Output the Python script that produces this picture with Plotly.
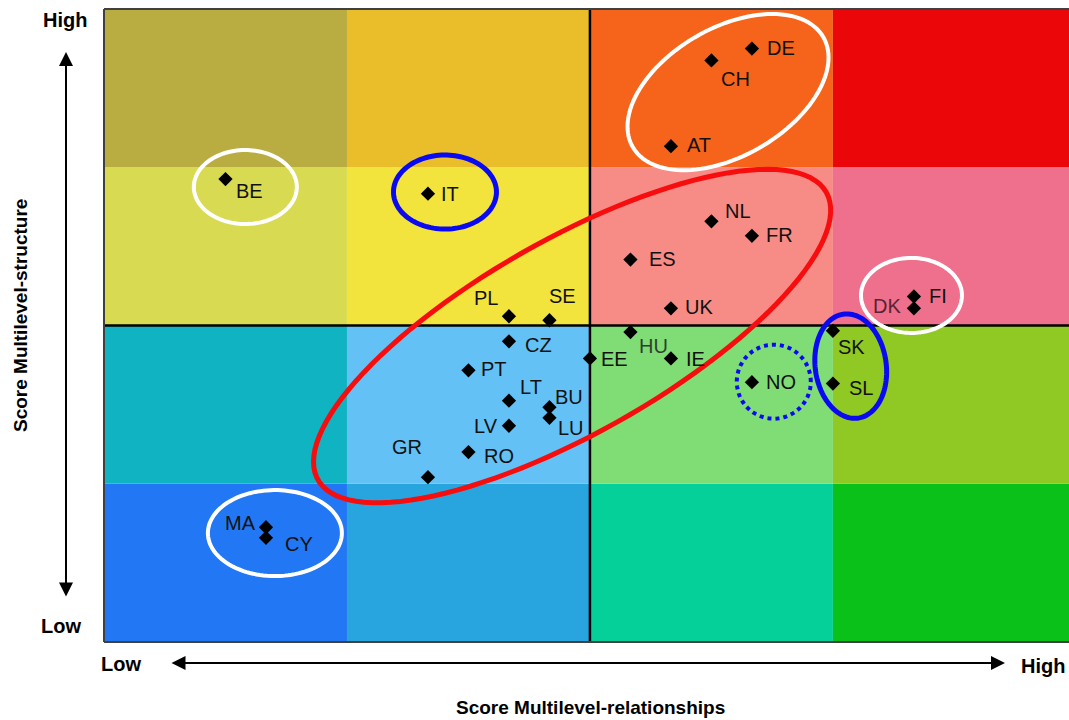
import numpy as np
import plotly.graph_objects as go

# ---- data ----
countries = ["DE", "CH", "AT", "BE", "IT", "NL", "FR", "ES", "UK", "DK", "FI",
             "PL", "SE", "HU", "SK", "CZ", "EE", "IE", "PT", "NO", "SL",
             "LT", "BU", "LU", "LV", "RO", "GR", "MA", "CY"]
relationships = [16, 15, 14, 3, 8, 15, 16, 13, 14, 20, 20,
                 10, 11, 13, 18, 10, 12, 14, 9, 16, 18,
                 10, 11, 11, 10, 9, 8, 4, 4]
structure = [22.5, 22.05, 18.8, 17.55, 17.0, 15.95, 15.4, 14.5, 12.65, 12.65, 13.1,
             12.35, 12.2, 11.75, 11.8, 11.4, 10.75, 10.75, 10.3, 9.85, 9.8,
             9.15, 8.9, 8.5, 8.2, 7.2, 6.25, 4.35, 3.95]
level_labels = ["Low", "High"]
x_title = "Score Multilevel-relationships"
y_title = "Score Multilevel-structure"

# cell colours, rows from bottom to top
cell_colors = [
    ["#2277F5", "#28A5DE", "#05D09A", "#0AC119"],
    ["#0FB3C2", "#64C1F6", "#80DC75", "#90C824"],
    ["#D8DB52", "#F2E43D", "#F78C86", "#EF708C"],
    ["#B9AC41", "#EABE2A", "#F5641A", "#EB0709"],
]

# label offsets in pixels (dx right, dy down) and colours
label_dx = [29, 24, 28, 24, 22, 27, 28, 32, 28, -27, 24,
            -23, 13, 23, 19, 30, 25, 25, 26, 29, 28,
            22, 20, 22, -23, 31, -21, -25, 33]
label_dy = [-1, 19, -1, 12, 0, -10, -1, -1, -1, -2, 0,
            -18, -24, 14, 16, 4, 1, 1, -1, 0, 4,
            -14, -10, 10, 0, 4, -30, -4, 6]
label_colors = {"DK": "#5a2232", "HU": "#2f3f2f"}

# ---- layout geometry ----
W, H = 1069, 720
PL_, PT_, PR_, PB_ = 104, 9, 1069, 642      # plot area in page pixels
ML, MT, MR, MB = PL_, PT_, W - PR_, H - PB_
X_MAX, Y_MAX = 23.83, 24
PW, PH = PR_ - PL_, PB_ - PT_
pxx = PW / X_MAX
pxy = PH / Y_MAX

fig = go.Figure()

shapes = []
for r, row in enumerate(cell_colors):
    for c, col in enumerate(row):
        shapes.append(dict(type="rect", xref="x", yref="y",
                           x0=c * 6, x1=min((c + 1) * 6, X_MAX),
                           y0=r * 6, y1=(r + 1) * 6,
                           fillcolor=col, line=dict(width=0), layer="below"))
# centre lines
shapes.append(dict(type="line", xref="x", yref="paper", x0=12, x1=12, y0=0, y1=1,
                   line=dict(color="black", width=2.5)))
shapes.append(dict(type="line", xref="paper", yref="y", x0=0, x1=1, y0=12, y1=12,
                   line=dict(color="black", width=2.5)))
# plot border (left, top, bottom)
for (x0, y0, x1, y1) in [(0, 0, 0, 1), (0, 1, 1, 1), (0, 0, 1, 0)]:
    shapes.append(dict(type="line", xref="paper", yref="paper", x0=x0, y0=y0, x1=x1, y1=y1,
                       line=dict(color="#404040", width=2)))


def ellipse_path(cx, cy, a_px, b_px, ang_deg, n=120):
    t = np.linspace(0, 2 * np.pi, n)
    th = np.radians(ang_deg)
    dx = a_px * np.cos(t) * np.cos(th) - b_px * np.sin(t) * np.sin(th)
    dy = a_px * np.cos(t) * np.sin(th) + b_px * np.sin(t) * np.cos(th)
    xs = cx + dx / pxx
    ys = cy + dy / pxy
    p = "M %.4f,%.4f " % (xs[0], ys[0])
    p += " ".join("L %.4f,%.4f" % (x, y) for x, y in zip(xs[1:], ys[1:]))
    return p + " Z"


# ellipses: centre (data), semi-axes (px), angle, colour, width, dash
ellipses = [
    (15.41, 20.85, 110, 64, 30, "white", 4, "solid"),
    (3.49, 17.25, 51.5, 37, 0, "white", 4, "solid"),
    (8.42, 17.06, 51.5, 37, 0, "#0A0AF2", 5, "solid"),
    (11.56, 11.6, 292, 97, 29.5, "#F70D0D", 5, "solid"),
    (19.94, 13.14, 50.5, 37.5, 0, "white", 4, "solid"),
    (18.44, 10.46, 35.5, 52.5, 8, "#0A0AF2", 5, "solid"),
    (16.54, 9.87, 37, 37, 0, "#0A0AF2", 4, "dot"),
    (4.22, 4.13, 67, 43, 0, "white", 4, "solid"),
]
for (cx, cy, a, b, ang, colr, lw, dash) in ellipses:
    shapes.append(dict(type="path", xref="x", yref="y",
                       path=ellipse_path(cx, cy, a, b, ang),
                       line=dict(color=colr, width=lw, dash=dash), layer="above"))

fig.add_trace(go.Scatter(x=relationships, y=structure, mode="markers",
                         marker=dict(symbol="diamond", size=11, color="black"),
                         hoverinfo="text", text=countries, showlegend=False))

FONT = "Arial, Liberation Sans, sans-serif"
annotations = []
for name, x, y, dx, dy in zip(countries, relationships, structure, label_dx, label_dy):
    annotations.append(dict(x=x, y=y, xref="x", yref="y", text=name, showarrow=False,
                            xanchor="center", yanchor="middle",
                            xshift=dx, yshift=-dy,
                            font=dict(family=FONT, size=20, color=label_colors.get(name, "#111111"))))


def px_to_paper(px, py):
    return (px - PL_) / PW, (PB_ - py) / PH


# level labels
for txt, (px, py) in [(level_labels[1], (65, 20)), (level_labels[0], (61, 626)),
                      (level_labels[0], (121, 664)), (level_labels[1], (1043, 666))]:
    xp, yp = px_to_paper(px, py)
    annotations.append(dict(x=xp, y=yp, xref="paper", yref="paper", text="<b>%s</b>" % txt,
                            xanchor="center", yanchor="middle",
                            showarrow=False, font=dict(family=FONT, size=20, color="black")))
# axis titles
xp, yp = px_to_paper(590, 707)
annotations.append(dict(x=xp, y=yp, xref="paper", yref="paper", text="<b>%s</b>" % x_title,
                        xanchor="center", yanchor="middle",
                        showarrow=False, font=dict(family=FONT, size=19, color="black")))
xp, yp = px_to_paper(20, 316)
annotations.append(dict(x=xp, y=yp, xref="paper", yref="paper", text="<b>%s</b>" % y_title,
                        xanchor="center", yanchor="middle",
                        showarrow=False, textangle=-90, font=dict(family=FONT, size=19, color="black")))
# double arrows
xp, yp = px_to_paper(66, 52)
annotations.append(dict(x=xp, y=yp, xref="paper", yref="paper", text="", showarrow=True,
                        ax=0, ay=546, arrowside="end+start", arrowhead=2, arrowsize=1.4,
                        arrowwidth=2, arrowcolor="black", standoff=0, startstandoff=0,
                        startarrowhead=2, startarrowsize=1.4))
xp, yp = px_to_paper(1005, 663)
annotations.append(dict(x=xp, y=yp, xref="paper", yref="paper", text="", showarrow=True,
                        ax=-835, ay=0, arrowside="end+start", arrowhead=2, arrowsize=1.4,
                        arrowwidth=2, arrowcolor="black", standoff=0, startstandoff=0,
                        startarrowhead=2, startarrowsize=1.4))

fig.update_layout(
    width=W, height=H,
    margin=dict(l=ML, r=MR, t=MT, b=MB, pad=0),
    paper_bgcolor="white", plot_bgcolor="white",
    xaxis=dict(range=[0, X_MAX], showgrid=False, zeroline=False, showticklabels=False,
               ticks="", fixedrange=True),
    yaxis=dict(range=[0, Y_MAX], showgrid=False, zeroline=False, showticklabels=False,
               ticks="", fixedrange=True),
    shapes=shapes, annotations=annotations,
    showlegend=False,
)

fig.write_html("out.html", config={"displayModeBar": False},
               post_script="document.body.style.margin='0';document.body.style.overflow='hidden';")
